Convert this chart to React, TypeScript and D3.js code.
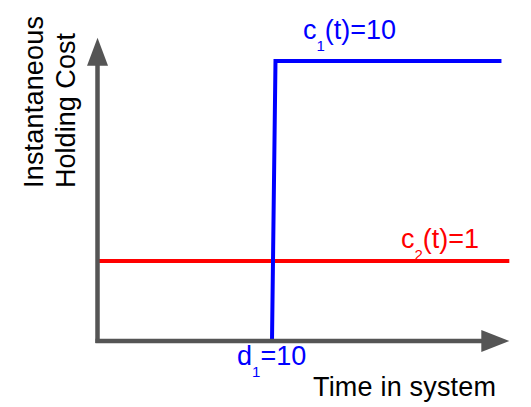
import React from "react";
import * as d3 from "d3";

const W = 531;
const H = 407;

// Time axis (arbitrary units): origin at 0, d1 = 10
const timeExtent = [0, 23.6];
// Schematic drawn levels of holding cost (not to scale with labels)
const costExtent = [0, 3.79];

const c1Series = [
  { t: 10, c: 0 },
  { t: 10.2, c: 3.5 },
  { t: 23.15, c: 3.5 },
];
const c2Series = [
  { t: 0, c: 1 },
  { t: 23.6, c: 1 },
];

const xLabel = "Time in system";
const yLabelLines = ["Instantaneous", "Holding Cost"];

export default function App() {
  const x = d3.scaleLinear().domain([0, 10]).range([97.5, 272]);
  const y = d3.scaleLinear().domain([0, 3.5]).range([341, 61]);
  const line = d3
    .line<{ t: number; c: number }>()
    .x((d) => x(d.t))
    .y((d) => y(d.c));

  const axisColor = "#555555";
  const x0 = x(0);
  const y0 = y(0);
  const xTip = x(timeExtent[1]);
  const yTip = y(costExtent[1]);
  const head = 28;
  const font = "'Liberation Sans', Arial, sans-serif";

  return (
    <svg
      width={W}
      height={H}
      style={{ position: "absolute", left: 0, top: 0, background: "#fff" }}
      fontFamily={font}
    >
      <path d={line(c2Series) || ""} fill="none" stroke="#ff0000" strokeWidth={4} />
      <path d={line(c1Series) || ""} fill="none" stroke="#0000ff" strokeWidth={4} />

      {/* axes */}
      <line x1={x0} y1={y0 + 2} x2={x0} y2={yTip + head - 1} stroke={axisColor} strokeWidth={4.5} />
      <polygon
        points={`${x0},${yTip} ${x0 - 10.5},${yTip + head} ${x0 + 10.5},${yTip + head}`}
        fill={axisColor}
      />
      <line x1={x0 - 2} y1={y0} x2={xTip - head + 1} y2={y0} stroke={axisColor} strokeWidth={4.5} />
      <polygon
        points={`${xTip},${y0} ${xTip - head},${y0 - 11} ${xTip - head},${y0 + 11}`}
        fill={axisColor}
      />

      {/* labels */}
      <text x={303} y={39} fontSize={27} fill="#0000ff">
        c<tspan fontSize={15} dy={12}>1</tspan>
        <tspan dy={-12}>(t)=10</tspan>
      </text>
      <text x={401} y={248} fontSize={27} fill="#ff0000">
        c<tspan fontSize={15} dy={12}>2</tspan>
        <tspan dy={-12}>(t)=1</tspan>
      </text>
      <text x={237} y={365} fontSize={27} fill="#0000ff">
        d<tspan fontSize={15} dy={12}>1</tspan>
        <tspan dy={-12}>=10</tspan>
      </text>
      <text x={313} y={396} fontSize={27} textLength={183} lengthAdjust="spacing" fill="#000">
        {xLabel}
      </text>
      <text
        transform="translate(43,188) rotate(-90)"
        fontSize={27}
        textLength={172}
        lengthAdjust="spacing"
        fill="#000"
      >
        {yLabelLines[0]}
      </text>
      <text
        transform="translate(75,188) rotate(-90)"
        fontSize={27}
        textLength={155}
        lengthAdjust="spacing"
        fill="#000"
      >
        {yLabelLines[1]}
      </text>
    </svg>
  );
}
